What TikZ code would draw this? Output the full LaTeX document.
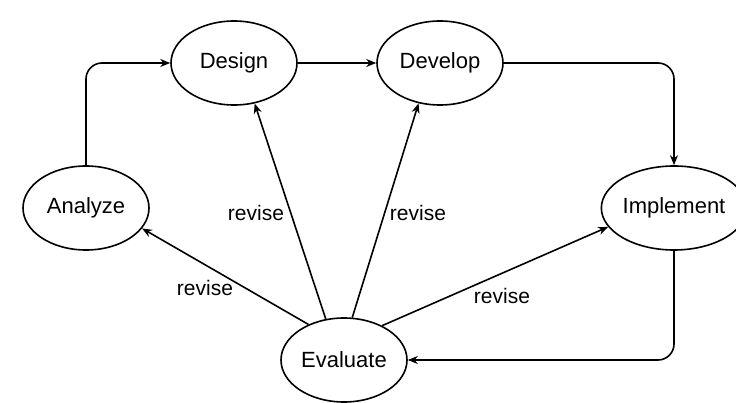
\documentclass[tikz,border=0pt]{standalone}
\usepackage{fontspec}
\setmainfont{Liberation Sans}
\usetikzlibrary{shapes.geometric,arrows.meta}

\begin{document}
\begin{tikzpicture}[x=1pt,y=-1pt,
    phase/.style={draw,ellipse,line width=1.6pt,minimum width=126pt,minimum height=84pt,inner sep=0pt,font=\fontsize{22}{26}\selectfont},
    flow/.style={line width=1.6pt,-{Stealth[length=10pt,width=8pt]},rounded corners=16pt},
    lbl/.style={font=\fontsize{21}{25}\selectfont}]
    \useasboundingbox (0,0) rectangle (736,403);

    % Phases
    \node[phase] (analyze) at (86,208) {Analyze};
    \node[phase] (design) at (234,63) {Design};
    \node[phase] (develop) at (440,63) {Develop};
    \node[phase] (implement) at (674,208) {Implement};
    \node[phase] (evaluate) at (344,360) {Evaluate};

    % Main cycle
    \draw[flow] (analyze.north) |- (design.west);
    \draw[flow] (design) -- (develop);
    \draw[flow] (develop.east) -| (implement.north);
    \draw[flow] (implement.south) |- (evaluate.east);

    % Revise arrows
    \draw[flow] (evaluate.135) -- (analyze.-20);
    \draw[flow] (evaluate.114) -- (design.-63);
    \draw[flow] (evaluate.79) -- (develop.-118);
    \draw[flow] (evaluate.42) -- (implement.-164);

    % Labels
    \node[lbl] (revA) at (205,288) {revise};
    \node[lbl] (revB) at (256,213) {revise};
    \node[lbl] (revC) at (418,213) {revise};
    \node[lbl] (revD) at (502,296) {revise};
\end{tikzpicture}
\end{document}
